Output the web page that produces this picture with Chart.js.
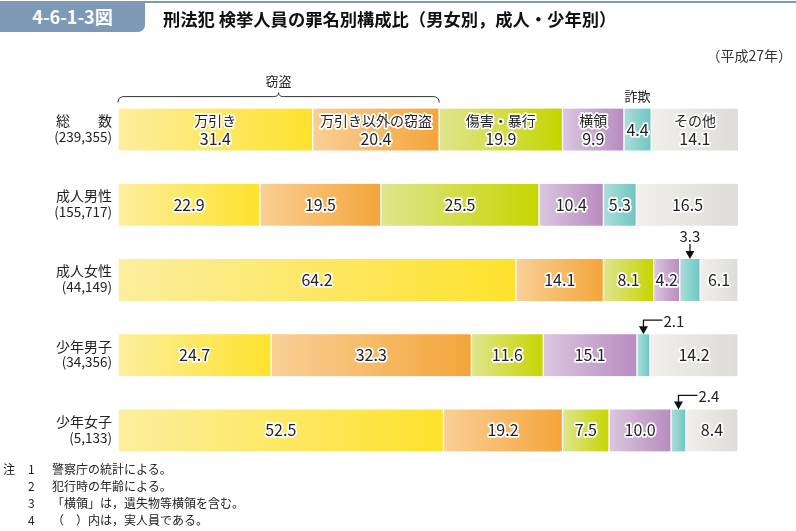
<!DOCTYPE html>
<html><head><meta charset="utf-8">
<script src="https://cdn.jsdelivr.net/npm/chart.js@4"></script>
<style>
body{margin:0;width:796px;height:531px;position:relative;overflow:hidden;background:#fff;font-family:"Noto Sans CJK JP","Noto Sans",sans-serif;color:#222}
#c{position:absolute;left:0;top:0}
.abs{position:absolute;white-space:nowrap}
</style></head>
<body>
<canvas id="c" width="796" height="531"></canvas>
<div class="abs" style="left:0;top:1px;width:145px;height:31px;background:#7d99b6;border-radius:0 0 7px 0;color:#fff;font-weight:700;font-size:18px;line-height:31px;text-align:center">4-6-1-3図</div>
<div class="abs" style="left:145px;top:1px;width:651px;height:2px;background:#7d99b6"></div>
<div class="abs" style="left:163px;top:6px;font-weight:700;font-size:17.3px;line-height:26px;color:#111">刑法犯 検挙人員の罪名別構成比（男女別，成人・少年別）</div>
<div class="abs" style="right:4px;top:45px;font-size:14px;line-height:20px;color:#333">（平成27年）</div>
<div class="abs" style="left:3px;top:460px;font-size:12px;line-height:17px;color:#222">
<div><span style="display:inline-block;width:25px">注</span><span style="display:inline-block;width:24px">1</span>警察庁の統計による。</div>
<div><span style="display:inline-block;width:25px"></span><span style="display:inline-block;width:24px">2</span>犯行時の年齢による。</div>
<div><span style="display:inline-block;width:25px"></span><span style="display:inline-block;width:24px">3</span>「横領」は，遺失物等横領を含む。</div>
<div><span style="display:inline-block;width:25px"></span><span style="display:inline-block;width:24px">4</span>（　）内は，実人員である。</div>
</div>
<script>
const categories = ['総　　数','成人男性','成人女性','少年男子','少年女子'];
const counts = ['(239,355)','(155,717)','(44,149)','(34,356)','(5,133)'];
const seriesNames = ['万引き','万引き以外の窃盗','傷害・暴行','横領','詐欺','その他'];
const shoplifting = [31.4,22.9,64.2,24.7,52.5];
const otherTheft = [20.4,19.5,14.1,32.3,19.2];
const assault = [19.9,25.5,8.1,11.6,7.5];
const embezzlement = [9.9,10.4,4.2,15.1,10.0];
const fraud = [4.4,5.3,3.3,2.1,2.4];
const others = [14.1,16.5,6.1,14.2,8.4];
const seriesData = [shoplifting,otherTheft,assault,embezzlement,fraud,others];
const colors = [
  ['#fcee9f','#fee22c'],
  ['#f9cf96','#f4a53a'],
  ['#dfe58e','#c6d500'],
  ['#dbc6df','#b78cbf'],
  ['#addeda','#6dc6c1'],
  ['#f0efec','#dedcd8']
];
const TXT='#222';
function grad(i){
  return (ctx)=>{
    const c=ctx.chart;
    if(!c.chartArea||ctx.type!=='data') return colors[i][1];
    const xs=c.scales.x; const j=ctx.dataIndex;
    let s=0; for(let k=0;k<i;k++) s+=seriesData[k][j];
    const x0=xs.getPixelForValue(s), x1=xs.getPixelForValue(s+seriesData[i][j]);
    const g=c.ctx.createLinearGradient(x0,0,x1,0);
    g.addColorStop(0,colors[i][0]); g.addColorStop(1,colors[i][1]);
    return g;
  };
}
function haloText(ctx,t,x,y){
  ctx.lineJoin='round';ctx.strokeStyle='#fff';ctx.lineWidth=3.5;
  ctx.strokeText(t,x,y);ctx.fillStyle=TXT;ctx.fillText(t,x,y);
}
const FONT='"Noto Sans CJK JP","Noto Sans",sans-serif';
const annot={
  id:'annot',
  afterDatasetsDraw(chart){
    const ctx=chart.ctx; ctx.save();
    ctx.textBaseline='middle';
    seriesData.forEach((arr,i)=>{
      const meta=chart.getDatasetMeta(i);
      meta.data.forEach((el,j)=>{
        const v=arr[j]; const cx=(el.base+el.x)/2; const cy=el.y; const top=el.y-21;
        ctx.textAlign='center';
        if(v<4){
          ctx.strokeStyle='#111';ctx.fillStyle='#111';ctx.lineWidth=1.3;
          if(j===2){
            ctx.beginPath();ctx.moveTo(cx,top-15);ctx.lineTo(cx,top-6);ctx.stroke();
            ctx.beginPath();ctx.moveTo(cx-4.5,top-8);ctx.lineTo(cx+4.5,top-8);ctx.lineTo(cx,top);ctx.closePath();ctx.fill();
            ctx.font='15px '+FONT;ctx.fillStyle=TXT;ctx.fillText(v.toFixed(1),cx,top-23);
          }else{
            const hy=top-14;
            ctx.beginPath();ctx.moveTo(cx+19,hy);ctx.lineTo(cx,hy);ctx.lineTo(cx,top-6);ctx.stroke();
            ctx.beginPath();ctx.moveTo(cx-4.5,top-8);ctx.lineTo(cx+4.5,top-8);ctx.lineTo(cx,top);ctx.closePath();ctx.fill();
            ctx.font='15px '+FONT;ctx.fillStyle=TXT;ctx.textAlign='left';ctx.fillText(v.toFixed(1),cx+20,hy+1);
          }
          return;
        }
        if(j===0 && i!==4){
          ctx.font='14px '+FONT; haloText(ctx,seriesNames[i],cx,cy-9);
          ctx.font='16px '+FONT; haloText(ctx,v.toFixed(1),cx,cy+9);
        }else{
          ctx.font='16px '+FONT; haloText(ctx,v.toFixed(1),cx,cy);
        }
      });
    });
    const m0=chart.getDatasetMeta(0);
    m0.data.forEach((el,j)=>{
      ctx.textAlign='right';ctx.fillStyle=TXT;
      ctx.font='14px '+FONT;ctx.fillText(categories[j],chart.chartArea.left-6,el.y-9);
      ctx.font='13.5px '+FONT;ctx.fillText(counts[j],chart.chartArea.left-6,el.y+7);
    });
    const a=chart.getDatasetMeta(0).data[0], b=chart.getDatasetMeta(1).data[0];
    const top=a.y-21; const x0=a.base, x1=b.x, xm=(x0+x1)/2, ly=top-12;
    ctx.strokeStyle='#333';ctx.lineWidth=1;
    ctx.beginPath();
    ctx.moveTo(x0,top-6);
    ctx.quadraticCurveTo(x0,ly,x0+6,ly);
    ctx.lineTo(xm-5,ly);
    ctx.quadraticCurveTo(xm,ly,xm,ly-4);
    ctx.quadraticCurveTo(xm,ly,xm+5,ly);
    ctx.lineTo(x1-6,ly);
    ctx.quadraticCurveTo(x1,ly,x1,top-6);
    ctx.stroke();
    ctx.textAlign='center';ctx.fillStyle=TXT;ctx.font='13px '+FONT;
    ctx.fillText('窃盗',xm,top-28);
    const f=chart.getDatasetMeta(4).data[0];
    ctx.fillText(seriesNames[4],(f.base+f.x)/2,top-13);
    ctx.restore();
  }
};
new Chart(document.getElementById('c'),{
  type:'bar',
  data:{
    labels:categories,
    datasets:seriesData.map((d,i)=>({
      label:seriesNames[i],data:d,backgroundColor:grad(i),
      borderColor:'#fff',borderWidth:{left:1,right:1,top:0,bottom:0},borderSkipped:false,
      barThickness:42
    }))
  },
  options:{
    indexAxis:'y',responsive:false,animation:false,
    layout:{padding:{left:118,right:58,top:92,bottom:63}},
    scales:{
      x:{stacked:true,min:0,max:100,display:false},
      y:{stacked:true,display:false}
    },
    plugins:{legend:{display:false},tooltip:{enabled:false}}
  },
  plugins:[annot]
});
</script>
</body></html>
